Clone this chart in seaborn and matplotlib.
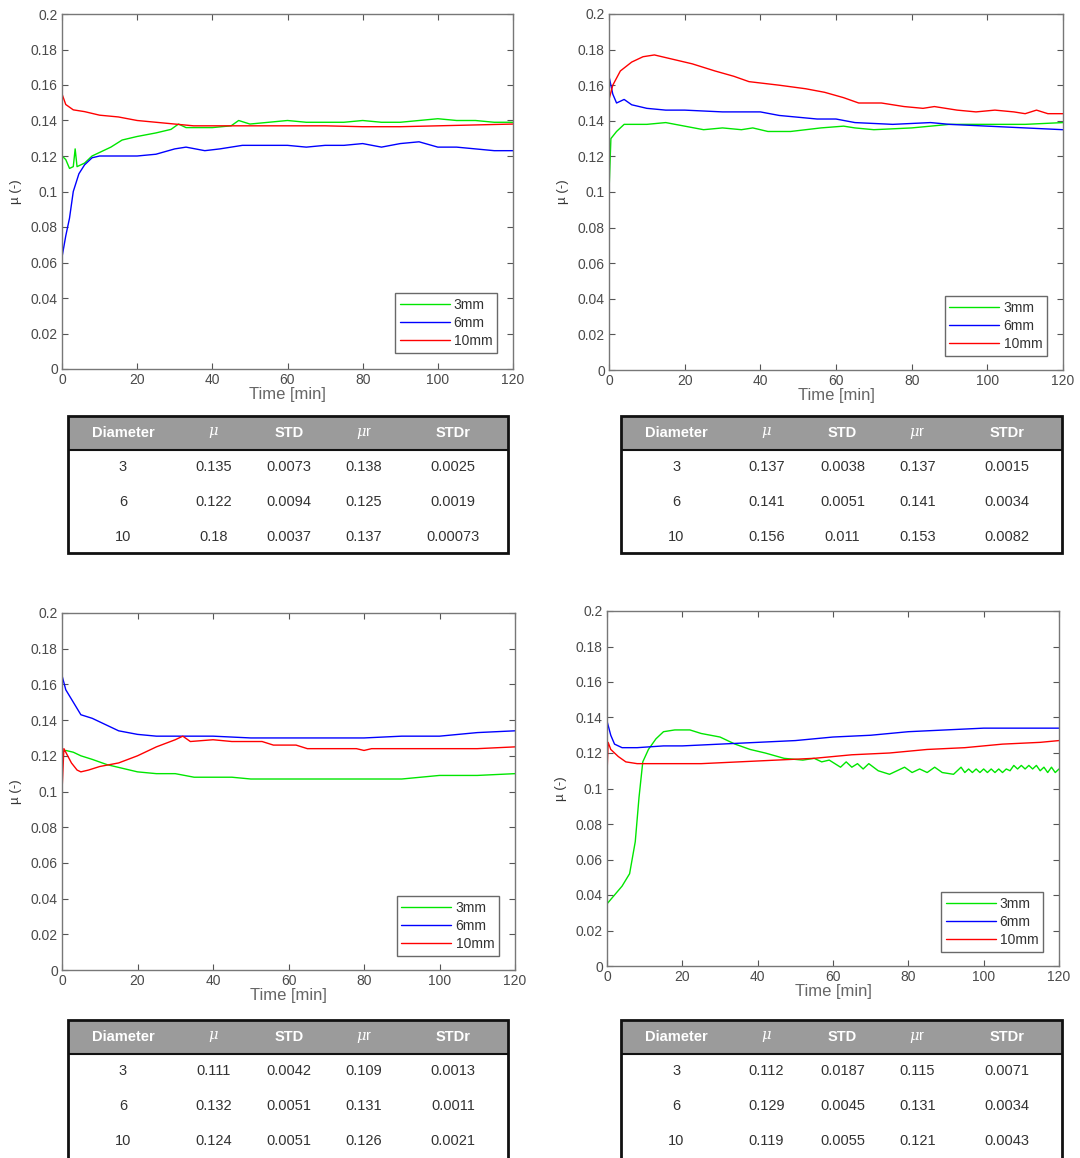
import numpy as np
import pandas as pd
import matplotlib
matplotlib.use("Agg")
import matplotlib.pyplot as plt
from matplotlib.patches import Rectangle
import seaborn as sns

sns.set_theme(style="white")
plt.rcParams['font.family'] = ['Liberation Sans', 'DejaVu Sans']
plt.rcParams['mathtext.fontset'] = 'dejavuserif'

# ---------------- data ----------------
series_labels = ["3mm", "6mm", "10mm"]
series_colors = ["#00e600", "#0000ff", "#ff0000"]

# Panel 1 (top-left)
p1_t_green = [0, 1, 2, 3, 3.5, 4, 6, 8, 10, 13, 16, 20, 25, 29, 31, 33, 35, 40, 45, 47, 50, 55, 60, 65, 70, 75, 80, 85, 90, 95, 100, 105, 110, 115, 120]
p1_green = [0.120, 0.118, 0.113, 0.114, 0.124, 0.114, 0.116, 0.120, 0.122, 0.125, 0.129, 0.131, 0.133, 0.135, 0.138, 0.136, 0.136, 0.136, 0.137, 0.140, 0.138, 0.139, 0.140, 0.139, 0.139, 0.139, 0.140, 0.139, 0.139, 0.140, 0.141, 0.140, 0.140, 0.139, 0.139]
p1_t_blue = [0, 1, 2, 3, 4.5, 6, 8, 10, 15, 20, 25, 30, 33, 38, 42, 48, 55, 60, 65, 70, 75, 80, 85, 90, 95, 100, 105, 110, 115, 120]
p1_blue = [0.063, 0.075, 0.085, 0.100, 0.110, 0.115, 0.119, 0.120, 0.120, 0.120, 0.121, 0.124, 0.125, 0.123, 0.124, 0.126, 0.126, 0.126, 0.125, 0.126, 0.126, 0.127, 0.125, 0.127, 0.128, 0.125, 0.125, 0.124, 0.123, 0.123]
p1_t_red = [0, 1, 3, 6, 10, 15, 20, 25, 30, 35, 40, 50, 60, 70, 80, 90, 100, 110, 120]
p1_red = [0.155, 0.149, 0.146, 0.145, 0.143, 0.142, 0.140, 0.139, 0.138, 0.137, 0.137, 0.137, 0.137, 0.137, 0.1365, 0.1365, 0.137, 0.1375, 0.138]

# Panel 2 (top-right)
p2_t_green = [0, 0.5, 2, 4, 10, 15, 20, 25, 30, 35, 38, 42, 48, 52, 56, 62, 65, 70, 80, 85, 90, 100, 110, 120]
p2_green = [0.100, 0.130, 0.134, 0.138, 0.138, 0.139, 0.137, 0.135, 0.136, 0.135, 0.136, 0.134, 0.134, 0.135, 0.136, 0.137, 0.136, 0.135, 0.136, 0.137, 0.138, 0.138, 0.138, 0.139]
p2_t_blue = [0, 1, 2, 4, 6, 10, 15, 20, 30, 40, 45, 50, 55, 60, 65, 75, 85, 90, 100, 110, 120]
p2_blue = [0.165, 0.155, 0.150, 0.152, 0.149, 0.147, 0.146, 0.146, 0.145, 0.145, 0.143, 0.142, 0.141, 0.141, 0.139, 0.138, 0.139, 0.138, 0.137, 0.136, 0.135]
p2_t_red = [0, 1, 3, 6, 9, 12, 16, 22, 28, 33, 37, 45, 52, 57, 62, 66, 72, 78, 83, 86, 92, 97, 102, 107, 110, 113, 116, 120]
p2_red = [0.152, 0.160, 0.168, 0.173, 0.176, 0.177, 0.175, 0.172, 0.168, 0.165, 0.162, 0.160, 0.158, 0.156, 0.153, 0.150, 0.150, 0.148, 0.147, 0.148, 0.146, 0.145, 0.146, 0.145, 0.144, 0.146, 0.144, 0.144]

# Panel 3 (bottom-left)
p3_t_green = [0, 1, 3, 5, 8, 12, 16, 20, 25, 30, 35, 40, 45, 50, 60, 70, 80, 90, 95, 100, 110, 120]
p3_green = [0.122, 0.123, 0.122, 0.120, 0.118, 0.115, 0.113, 0.111, 0.110, 0.110, 0.108, 0.108, 0.108, 0.107, 0.107, 0.107, 0.107, 0.107, 0.108, 0.109, 0.109, 0.110]
p3_t_blue = [0, 1, 3, 5, 8, 12, 15, 20, 25, 30, 40, 50, 60, 70, 80, 90, 100, 110, 120]
p3_blue = [0.165, 0.157, 0.150, 0.143, 0.141, 0.137, 0.134, 0.132, 0.131, 0.131, 0.131, 0.130, 0.130, 0.130, 0.130, 0.131, 0.131, 0.133, 0.134]
p3_t_red = [0, 0.5, 1, 2.5, 4, 5, 7, 10, 15, 20, 25, 30, 32, 34, 40, 45, 53, 56, 62, 65, 78, 80, 82, 100, 110, 120]
p3_red = [0.100, 0.124, 0.122, 0.116, 0.112, 0.111, 0.112, 0.114, 0.116, 0.120, 0.125, 0.129, 0.131, 0.128, 0.129, 0.128, 0.128, 0.126, 0.126, 0.124, 0.124, 0.123, 0.124, 0.124, 0.124, 0.125]

# Panel 4 (bottom-right)
p4_t_green = [0, 2, 4, 6, 7.5, 8.5, 9.5, 11, 13, 15, 18, 22, 25, 30, 34, 38, 42, 47, 52, 55, 57, 59, 62, 63.5, 65, 66.5, 68, 69.5, 72, 75, 77, 79, 81, 83, 85, 87, 89, 92, 94,
              95, 96, 97, 98, 99, 100, 101, 102, 103, 104, 105, 106, 107, 108, 109, 110, 111, 112, 113, 114, 115, 116, 117, 118, 119, 120]
p4_green = [0.035, 0.040, 0.045, 0.052, 0.070, 0.095, 0.115, 0.122, 0.128, 0.132, 0.133, 0.133, 0.131, 0.129, 0.125, 0.122, 0.120, 0.117, 0.116, 0.117, 0.115, 0.116, 0.112, 0.115, 0.112, 0.114, 0.111, 0.114, 0.110, 0.108, 0.110, 0.112, 0.109, 0.111, 0.109, 0.112, 0.109, 0.108, 0.112,
            0.109, 0.111, 0.109, 0.111, 0.109, 0.111, 0.109, 0.111, 0.109, 0.111, 0.109, 0.111, 0.110, 0.113, 0.111, 0.113, 0.111, 0.113, 0.111, 0.113, 0.110, 0.112, 0.109, 0.112, 0.109, 0.111]
p4_t_blue = [0, 1, 2, 4, 8, 15, 20, 30, 40, 50, 60, 70, 80, 90, 100, 110, 120]
p4_blue = [0.138, 0.130, 0.125, 0.123, 0.123, 0.124, 0.124, 0.125, 0.126, 0.127, 0.129, 0.130, 0.132, 0.133, 0.134, 0.134, 0.134]
p4_t_red = [0, 0.3, 1, 3, 5, 8, 15, 25, 35, 45, 55, 65, 75, 85, 95, 105, 115, 120]
p4_red = [0.108, 0.126, 0.122, 0.118, 0.115, 0.114, 0.114, 0.114, 0.115, 0.116, 0.117, 0.119, 0.120, 0.122, 0.123, 0.125, 0.126, 0.127]

# Tables
table_header = ["Diameter", r"$\mu$", "STD", r"$\mu$r", "STDr"]
diameters = ["3", "6", "10"]
t1_mu = ["0.135", "0.122", "0.18"];   t1_std = ["0.0073", "0.0094", "0.0037"]; t1_mur = ["0.138", "0.125", "0.137"]; t1_stdr = ["0.0025", "0.0019", "0.00073"]
t2_mu = ["0.137", "0.141", "0.156"];  t2_std = ["0.0038", "0.0051", "0.011"];  t2_mur = ["0.137", "0.141", "0.153"]; t2_stdr = ["0.0015", "0.0034", "0.0082"]
t3_mu = ["0.111", "0.132", "0.124"];  t3_std = ["0.0042", "0.0051", "0.0051"]; t3_mur = ["0.109", "0.131", "0.126"]; t3_stdr = ["0.0013", "0.0011", "0.0021"]
t4_mu = ["0.112", "0.129", "0.119"];  t4_std = ["0.0187", "0.0045", "0.0055"]; t4_mur = ["0.115", "0.131", "0.121"]; t4_stdr = ["0.0071", "0.0034", "0.0043"]

panels = [
    ((p1_t_green, p1_green), (p1_t_blue, p1_blue), (p1_t_red, p1_red)),
    ((p2_t_green, p2_green), (p2_t_blue, p2_blue), (p2_t_red, p2_red)),
    ((p3_t_green, p3_green), (p3_t_blue, p3_blue), (p3_t_red, p3_red)),
    ((p4_t_green, p4_green), (p4_t_blue, p4_blue), (p4_t_red, p4_red)),
]
tables = [
    (t1_mu, t1_std, t1_mur, t1_stdr),
    (t2_mu, t2_std, t2_mur, t2_stdr),
    (t3_mu, t3_std, t3_mur, t3_stdr),
    (t4_mu, t4_std, t4_mur, t4_stdr),
]

# ---------------- layout (pixels) ----------------
W, H = 1080, 1158
axes_px = [(62, 14, 513, 369), (609, 14, 1063, 370), (62, 613, 515, 970), (607, 611, 1059, 966)]
table_px = [(68, 416, 508, 553), (621, 416, 1062, 553), (68, 1020, 508, 1157), (621, 1020, 1062, 1157)]
table_open_bottom = [False, False, True, True]
legend_anchor = [(0.965, 0.045), (0.965, 0.04), (0.965, 0.04), (0.965, 0.04)]

fig = plt.figure(figsize=(W / 100, H / 100), dpi=100)
fig.patch.set_facecolor("white")

def frac(box):
    x0, y0, x1, y1 = box
    return [x0 / W, 1 - y1 / H, (x1 - x0) / W, (y1 - y0) / H]

tick_col = "#4a4a4a"
for i, (box, series) in enumerate(zip(axes_px, panels)):
    ax = fig.add_axes(frac(box))
    for (tt, yy), lab, col in zip(series, series_labels, series_colors):
        df = pd.DataFrame({"t": tt, "mu": yy})
        sns.lineplot(data=df, x="t", y="mu", ax=ax, color=col, linewidth=1.0, label=lab, sort=False, estimator=None)
    ax.set_xlim(0, 120)
    ax.set_ylim(0, 0.2)
    ax.set_xticks(range(0, 121, 20))
    ax.set_yticks(np.arange(0, 0.2001, 0.02))
    ax.set_xticklabels([str(v) for v in range(0, 121, 20)])
    ax.set_yticklabels(["0", "0.02", "0.04", "0.06", "0.08", "0.1", "0.12", "0.14", "0.16", "0.18", "0.2"])
    ax.tick_params(direction="in", length=4, width=0.8, color="#555555", labelsize=10,
                   labelcolor=tick_col, top=True, right=True, bottom=True, left=True, pad=3)
    for sp in ax.spines.values():
        sp.set_color("#777777")
        sp.set_linewidth(1.0)
    ax.set_xlabel("Time [min]", fontsize=12, color="#666666", labelpad=0)
    ax.set_ylabel("µ (-)", fontsize=9.5, color="#333333", labelpad=6)
    ax.grid(False)
    leg = ax.legend(loc="lower right", bbox_to_anchor=legend_anchor[i], fontsize=10, frameon=True,
                    fancybox=False, handlelength=3.6, handletextpad=0.3, borderpad=0.35,
                    labelspacing=0.3, borderaxespad=0)
    leg.get_frame().set_edgecolor("#444444")
    leg.get_frame().set_linewidth(1.0)
    for txt in leg.get_texts():
        txt.set_color("#333333")

# tables
col_pos = [0.125, 0.33, 0.502, 0.672, 0.875]
for box, cols, open_bottom in zip(table_px, tables, table_open_bottom):
    tax = fig.add_axes(frac(box))
    tax.set_xlim(0, 1)
    tax.set_ylim(0, 137)
    tax.invert_yaxis()
    tax.axis("off")
    tax.add_patch(Rectangle((0, 0), 1, 34, facecolor="#9b9b9b", edgecolor="none"))
    tax.plot([0, 1], [34, 34], color="#111111", lw=1.5)
    if open_bottom:
        tax.plot([0, 0, 1, 1], [140, 0, 0, 140], color="#111111", lw=2, clip_on=False,
                 solid_joinstyle="miter")
    else:
        tax.add_patch(Rectangle((0, 0), 1, 137, facecolor="none", edgecolor="#111111", lw=2, clip_on=False))
    for cx, h in zip(col_pos, table_header):
        if "mu" in h:
            tax.text(cx, 17, h, ha="center", va="center", color="white", fontsize=10.5)
        else:
            tax.text(cx, 17, h, ha="center", va="center", color="white", fontsize=10.5, fontweight="bold")
    rows_y = [51, 86, 121]
    data_cols = [diameters] + list(cols)
    for r, ry in enumerate(rows_y):
        for cx, colvals in zip(col_pos, data_cols):
            tax.text(cx, ry, colvals[r], ha="center", va="center", color="#333333", fontsize=10.5)

fig.savefig("out.png", dpi=100, facecolor="white")
